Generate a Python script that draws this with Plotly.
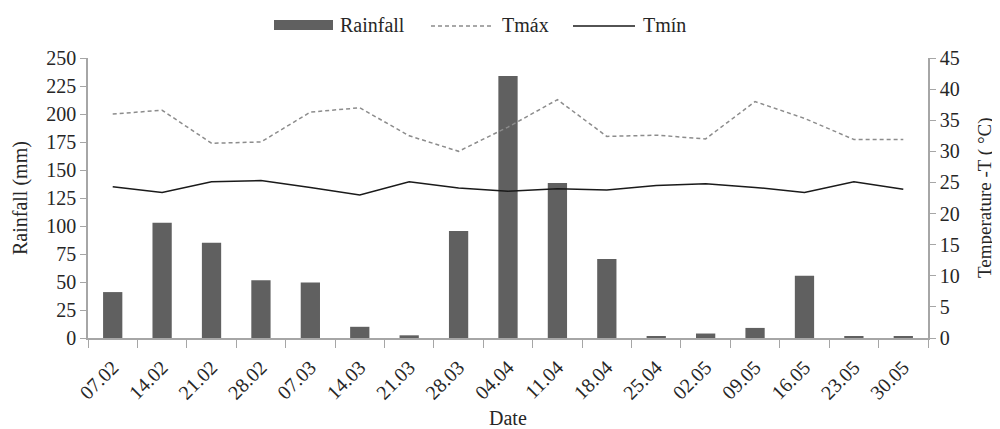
import plotly.graph_objects as go

dates = ["07.02", "14.02", "21.02", "28.02", "07.03", "14.03", "21.03", "28.03", "04.04",
         "11.04", "18.04", "25.04", "02.05", "09.05", "16.05", "23.05", "30.05"]
rainfall = [41, 103, 85, 51.5, 49.5, 10, 2.4, 95.5, 234, 138.5, 70.5, 1, 4, 9, 55.5, 1, 1]
tmax = [36.0, 36.6, 31.3, 31.5, 36.3, 37.0, 32.5, 30.0, 33.9, 38.3, 32.4, 32.6, 32.0, 38.0, 35.3, 31.9, 31.9]
tmin = [24.3, 23.4, 25.1, 25.3, 24.2, 23.0, 25.1, 24.1, 23.6, 24.0, 23.8, 24.5, 24.8, 24.2, 23.4, 25.1, 23.9]

font = "Liberation Serif, Times New Roman, serif"
axcol = "#a6a6a6"
txtcol = "#262626"
dash = "4px,3px"

# page body has an 8px default margin; plot area in page pixels: x 88..928, y 58..338
OFF = 8
W, H = 1000 - OFF, 429 - OFF
L, T = 88 - OFF, 58 - OFF
PW, PH = 840, 280
R = W - L - PW
B = H - T - PH


def px(x):
    return (x - 88) / PW


def py(y):
    return (338 - y) / PH


fig = go.Figure()
fig.add_trace(go.Bar(x=dates, y=rainfall, name="Rainfall", marker=dict(color="#606060", line=dict(width=0)),
                     yaxis="y"))
fig.add_trace(go.Scatter(x=dates, y=tmax, name="Tmáx", mode="lines",
                         line=dict(color="#8c8c8c", width=1.5, dash=dash), yaxis="y2"))
fig.add_trace(go.Scatter(x=dates, y=tmin, name="Tmín", mode="lines",
                         line=dict(color="#1a1a1a", width=1.5), yaxis="y2"))

shapes = [
    dict(type="rect", xref="paper", yref="paper", x0=px(274), x1=px(333), y0=py(30), y1=py(20),
         fillcolor="#606060", line=dict(width=0)),
    dict(type="line", xref="paper", yref="paper", x0=px(431), x1=px(493), y0=py(26), y1=py(26),
         line=dict(color="#8c8c8c", width=1.5, dash=dash)),
    dict(type="line", xref="paper", yref="paper", x0=px(573), x1=px(635), y0=py(26), y1=py(26),
         line=dict(color="#1a1a1a", width=1.5)),
]
annotations = [
    dict(text="Rainfall", x=px(338), y=py(25), xref="paper", yref="paper", xanchor="left", yanchor="middle",
         showarrow=False, font=dict(size=20)),
    dict(text="Tmáx", x=px(500), y=py(25), xref="paper", yref="paper", xanchor="left", yanchor="middle",
         showarrow=False, font=dict(size=20)),
    dict(text="Tmín", x=px(641), y=py(25), xref="paper", yref="paper", xanchor="left", yanchor="middle",
         showarrow=False, font=dict(size=20)),
    dict(text="Rainfall (mm)", x=px(20), y=0.5, xref="paper", yref="paper", xanchor="center", yanchor="middle",
         textangle=-90, showarrow=False, font=dict(size=20)),
    dict(text="Temperature -T ( °C)", x=px(985), y=0.5, xref="paper", yref="paper", xanchor="center",
         yanchor="middle", textangle=-90, showarrow=False, font=dict(size=19)),
    dict(text="Date", x=0.5, y=py(418), xref="paper", yref="paper", xanchor="center", yanchor="middle",
         showarrow=False, font=dict(size=20)),
]

fig.update_layout(
    width=W, height=H,
    margin=dict(l=L, r=R, t=T, b=B, autoexpand=False),
    paper_bgcolor="white", plot_bgcolor="white",
    font=dict(family=font, size=20, color=txtcol),
    bargap=0.61,
    showlegend=False,
    shapes=shapes,
    annotations=annotations,
    xaxis=dict(type="category", showline=True, linecolor=axcol, linewidth=1.5, automargin=False,
               ticks="outside", tickson="boundaries", tickcolor=axcol, ticklen=8,
               tickangle=-45, ticklabelstandoff=8, showgrid=False, zeroline=False),
    yaxis=dict(range=[0, 250], dtick=25, showline=True, linecolor=axcol, linewidth=1.5, automargin=False,
               ticks="outside", tickcolor=axcol, ticklen=6, showgrid=False, zeroline=False),
    yaxis2=dict(range=[0, 45], dtick=5, overlaying="y", side="right", showline=True, automargin=False,
                linecolor=axcol, linewidth=1.5, ticks="outside", tickcolor=axcol, ticklen=6,
                showgrid=False, zeroline=False),
)

fig.write_html("out.html")
